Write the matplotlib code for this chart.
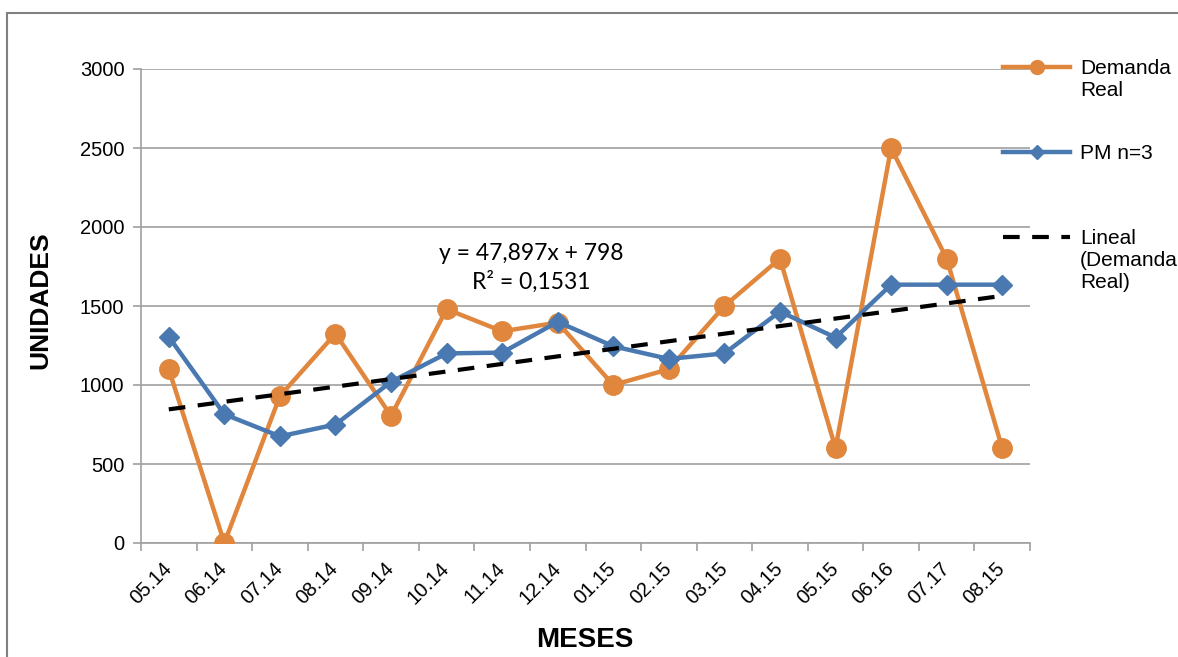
import matplotlib
matplotlib.use("Agg")
import matplotlib.pyplot as plt
import numpy as np
from matplotlib.lines import Line2D
from matplotlib.patches import Rectangle

plt.rcParams['font.family'] = ['Liberation Sans', 'DejaVu Sans']

meses = ['05.14', '06.14', '07.14', '08.14', '09.14', '10.14', '11.14', '12.14',
         '01.15', '02.15', '03.15', '04.15', '05.15', '06.16', '07.17', '08.15']
demanda_real = [1100, 0, 930, 1325, 805, 1480, 1340, 1395,
                1000, 1100, 1500, 1800, 600, 2500, 1800, 600]
pm_n3 = [1305, 815, 675, 750, 1020, 1200, 1205, 1400,
         1245, 1165, 1200, 1465, 1300, 1635, 1635, 1635]
pendiente = 47.897
intercepto = 798
r2 = 0.1531

naranja = '#E0873D'
azul = '#4A79B1'
gris = '#A0A0A0'

W, H = 1178, 657
fig = plt.figure(figsize=(W / 100, H / 100), dpi=100)
ax = fig.add_axes([141 / W, 1 - 543 / H, (1030 - 141) / W, (543 - 69) / H])

x = np.arange(len(meses))
tendencia = pendiente * (x + 1) + intercepto

ax.plot(x, demanda_real, color=naranja, lw=3.2, marker='o', ms=14, zorder=3)
ax.plot(x, pm_n3, color=azul, lw=3.2, marker='D', ms=10, zorder=4)
ax.plot(x, tendencia, color='black', lw=3, ls=(0, (4, 3)), zorder=5)

ax.set_xlim(-0.5, len(meses) - 0.5)
ax.set_ylim(0, 3000)
ax.set_yticks(np.arange(0, 3001, 500))
ax.yaxis.grid(True, color=gris, lw=1.2)
ax.set_axisbelow(True)

ax.set_xticks(x)
ax.set_xticklabels(meses, rotation=45, ha='right', va='center', rotation_mode='anchor')
ax.set_xticks(np.arange(-0.5, len(meses), 1), minor=True)
ax.tick_params(axis='x', which='major', length=0, pad=16, labelsize=14.5)
ax.tick_params(axis='x', which='minor', length=6, color=gris, width=1.2)
ax.tick_params(axis='y', length=6, color=gris, width=1.2, labelsize=14.5, pad=6)

for s in ['top', 'right']:
    ax.spines[s].set_visible(False)
for s in ['left', 'bottom']:
    ax.spines[s].set_color(gris)
    ax.spines[s].set_linewidth(1.2)

ax.set_ylabel('UNIDADES', fontsize=19, fontweight='bold', va='center')
ax.yaxis.set_label_coords((40 - 141) / 889, (543 - 300) / 474)
ax.set_xlabel('MESES', fontsize=20, fontweight='bold', va='center')
ax.xaxis.set_label_coords((585 - 141) / 889, (543 - 640) / 474)

ax.text(0.439, 0.581, 'y = 47,897x + 798\nR² = 0,1531', transform=ax.transAxes,
        ha='center', va='center', fontsize=16.5, family=['Lato', 'DejaVu Sans'],
        linespacing=1.35)

# leyenda a la derecha, con el trazo alineado a la primera linea del texto
entradas = [
    (dict(color=naranja, lw=3.2), dict(marker='o', ms=10), 'Demanda\nReal', 67),
    (dict(color=azul, lw=3.2), dict(marker='D', ms=7), 'PM n=3', 152),
    (dict(color='black', lw=3, ls=(0, (4, 3))), None, 'Lineal\n(Demanda\nReal)', 237),
]
for estilo, marca, texto, yp in entradas:
    yf = 1 - yp / H
    fig.add_artist(Line2D([1003 / W, 1070 / W], [yf, yf], transform=fig.transFigure, **estilo))
    if marca:
        fig.add_artist(Line2D([1037 / W], [yf], transform=fig.transFigure,
                              color=estilo['color'], ls='none', **marca))
    fig.text(1080 / W, yf + 8 / H, texto, ha='left', va='top', fontsize=15, linespacing=1.2)

fig.add_artist(Rectangle((7 / W, -0.1), 1.2, 1 - 13 / H + 0.1, transform=fig.transFigure,
                         fill=False, edgecolor='#808080', lw=1.5))

fig.savefig('out.png', dpi=100)
